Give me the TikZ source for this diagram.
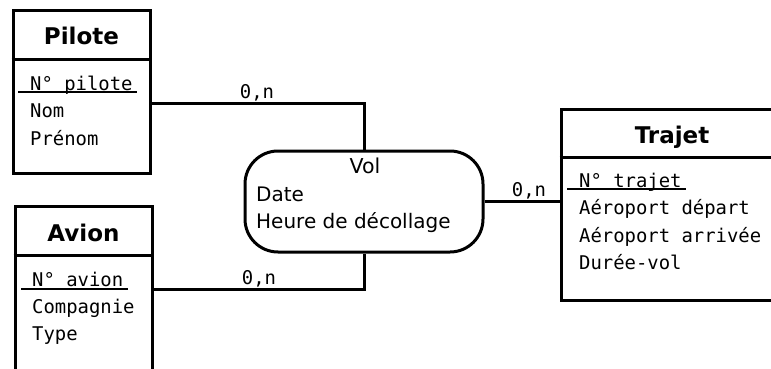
\documentclass[tikz,border=0pt]{standalone}
\usepackage{fontspec}
\setmainfont{DejaVu Sans}
\setmonofont{DejaVu Sans Mono}
\begin{document}
\begin{tikzpicture}[x=1pt,y=-1pt,
	box/.style={draw,line width=3pt,inner sep=0pt},
	titre/.style={anchor=base,inner sep=0pt,font=\fontsize{23}{23}\selectfont\bfseries},
	attr/.style={anchor=base west,inner sep=0pt,font=\fontsize{18.9}{18.9}\selectfont\ttfamily},
	texte/.style={anchor=base west,inner sep=0pt,font=\fontsize{20}{20}\selectfont},
	card/.style={anchor=base,inner sep=0pt,font=\fontsize{18.9}{18.9}\selectfont\ttfamily},
	lien/.style={line width=3pt},
	souligne/.style={line width=1.5pt}]
	\useasboundingbox (0,0) rectangle (771,369);
	\clip (0,0) rectangle (771,369);
	% entites
	\node[box,minimum width=137,minimum height=162] (pilote) at (81.5,92) {};
	\node[box,minimum width=137,minimum height=214] (avion) at (83.5,313) {};
	\node[box,minimum width=222,minimum height=191] (trajet) at (672,204.5) {};
	\draw[lien] (pilote.west |- 0,60) -- (pilote.east |- 0,60);
	\draw[lien] (avion.west |- 0,255) -- (avion.east |- 0,255);
	\draw[lien] (trajet.west |- 0,157) -- (trajet.east |- 0,157);
	% association
	\node[box,rounded corners=33pt,minimum width=238,minimum height=101] (vol) at (364,201.5) {};
	% liens
	\draw[lien] (pilote.east |- 0,103) -| (vol.north);
	\draw[lien] (avion.east |- 0,289) -| (vol.south);
	\draw[lien] (vol.east) -- (trajet.west |- vol.east);
	% titres
	\node[titre] (tpilote) at (81.5,45) {Pilote};
	\node[titre] (tavion) at (83.5,241) {Avion};
	\node[titre] (ttrajet) at (672,143) {Trajet};
	\node[anchor=base,inner sep=0pt,font=\fontsize{20.5}{20.5}\selectfont] (tvol) at (365,173) {Vol};
	% attributs
	\node[attr] (npilote) at (30,90) {N° pilote};
	\node[attr] (nom) at (30,117.5) {Nom};
	\node[attr] (prenom) at (30,145) {Prénom};
	\draw[souligne] (18,92) -- (137,92);
	\node[attr] (navion) at (32,286) {N° avion};
	\node[attr] (compagnie) at (32,313) {Compagnie};
	\node[attr] (type) at (32,340) {Type};
	\draw[souligne] (21,289) -- (128,289);
	\node[attr] (ntrajet) at (579,187) {N° trajet};
	\node[attr] (depart) at (579,214.5) {Aéroport départ};
	\node[attr] (arrivee) at (579,242) {Aéroport arrivée};
	\node[attr] (duree) at (579,269.5) {Durée-vol};
	\draw[souligne] (567,189) -- (686,189);
	\node[texte] (date) at (256,201) {Date};
	\node[texte] (heure) at (256,228) {Heure de décollage};
	% cardinalites
	\node[card] (c1) at (257,99) {0,n};
	\node[card] (c2) at (259,284) {0,n};
	\node[card] (c3) at (529,196) {0,n};
\end{tikzpicture}
\end{document}
